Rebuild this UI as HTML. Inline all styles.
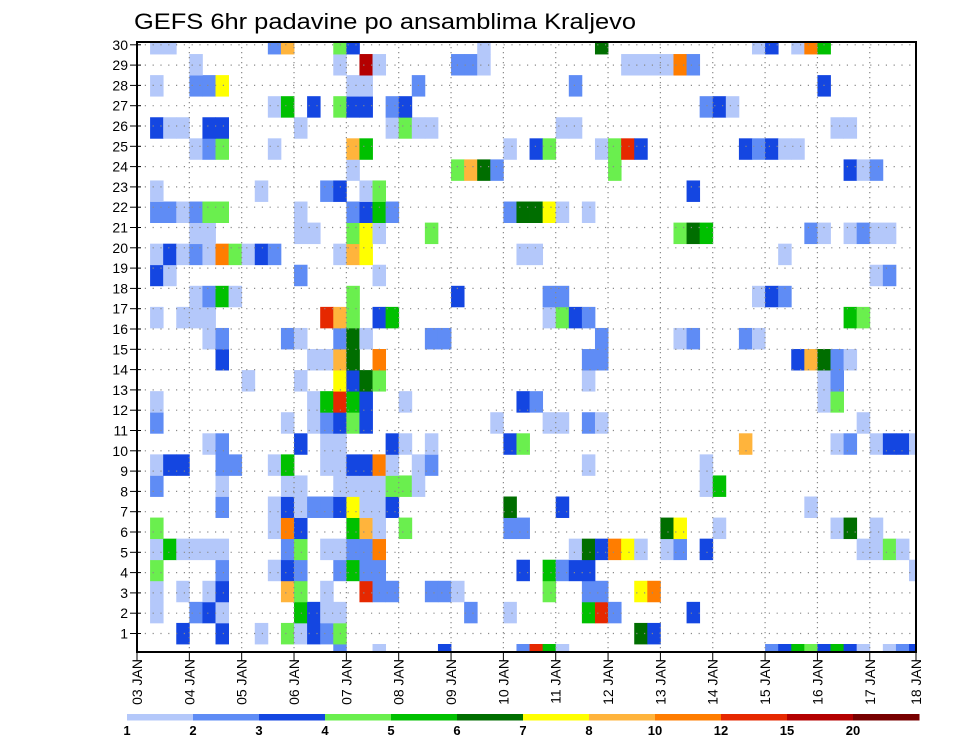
<!DOCTYPE html>
<html><head><meta charset="utf-8"><title>GEFS 6hr padavine po ansamblima Kraljevo</title>
<style>
html,body{margin:0;padding:0;background:#fff;}
svg{display:block;font-family:"Liberation Sans",sans-serif;}
</style></head>
<body>
<svg id="chart" width="960" height="742" viewBox="0 0 960 742" xmlns="http://www.w3.org/2000/svg">
<text x="134" y="29" font-size="22" textLength="502" lengthAdjust="spacingAndGlyphs" fill="#000">GEFS 6hr padavine po ansamblima Kraljevo</text>
<g id="cells"></g>
<g id="grid"></g>
<g id="axes"></g>
<g id="legend"></g>
</svg>
<script>
// ---- data ----
const dayLabels = ["03 JAN","04 JAN","05 JAN","06 JAN","07 JAN","08 JAN","09 JAN","10 JAN","11 JAN","12 JAN","13 JAN","14 JAN","15 JAN","16 JAN","17 JAN","18 JAN"];
const memberLabels = [1,2,3,4,5,6,7,8,9,10,11,12,13,14,15,16,17,18,19,20,21,22,23,24,25,26,27,28,29,30];
const legendBreaks = [1,2,3,4,5,6,7,8,10,12,15,20];
const legendColors = ["#b4c8fa","#5f8cf5","#1446e1","#6aef4e","#00c000","#006e00","#ffff00","#ffb43c","#ff7d00","#e62800","#b40000","#780000"];
// precipitation per ensemble member row: flat pairs [step, mm, step, mm, ...]
const precipByMember = {
29:[1,1.5,2,1.5,10,2.5,11,9,15,4.5,16,3.5,26,1.5,35,6.5,47,1.5,48,3.5,50,1.5,51,11,52,5.5],
28:[4,1.5,15,1.5,17,17,18,1.5,24,2.5,25,2.5,26,1.5,37,1.5,38,1.5,39,1.5,40,1.5,41,11,42,2.5],
27:[1,1.5,4,2.5,5,2.5,6,7.5,16,1.5,17,1.5,21,2.5,33,2.5,52,3.5],
26:[10,1.5,11,5.5,13,3.5,15,4.5,16,3.5,17,3.5,19,2.5,20,3.5,43,2.5,44,3.5,45,1.5],
25:[1,3.5,2,1.5,3,1.5,5,3.5,6,3.5,12,1.5,19,1.5,20,4.5,21,1.5,22,1.5,32,1.5,33,1.5,53,1.5,54,1.5],
24:[4,1.5,5,2.5,6,4.5,10,1.5,16,9,17,5.5,28,1.5,30,3.5,31,4.5,35,1.5,36,4.5,37,13,38,3.5,46,3.5,47,2.5,48,3.5,49,1.5,50,1.5],
23:[16,1.5,24,4.5,25,9,26,6.5,27,2.5,36,4.5,54,3.5,55,1.5,56,2.5],
22:[1,1.5,9,1.5,14,2.5,15,3.5,17,1.5,18,4.5,42,3.5],
21:[1,2.5,2,2.5,3,1.5,4,2.5,5,4.5,6,4.5,12,1.5,16,2.5,17,3.5,18,5.5,19,2.5,28,2.5,29,6.5,30,6.5,31,7.5,32,1.5,34,1.5],
20:[4,1.5,5,1.5,12,1.5,13,1.5,16,4.5,17,7.5,18,1.5,22,4.5,41,4.5,42,6.5,43,5.5,51,2.5,52,1.5,54,1.5,55,2.5,56,1.5,57,1.5],
19:[1,1.5,2,3.5,3,1.5,4,2.5,5,1.5,6,11,7,4.5,8,1.5,9,3.5,10,2.5,15,1.5,16,9,17,7.5,29,1.5,30,1.5,49,1.5],
18:[1,3.5,2,1.5,12,2.5,18,1.5,56,1.5,57,2.5],
17:[4,1.5,5,2.5,6,5.5,7,1.5,16,4.5,24,3.5,31,2.5,32,2.5,47,1.5,48,3.5,49,2.5],
16:[1,1.5,3,1.5,4,1.5,5,1.5,14,13,15,9,16,4.5,18,3.5,19,5.5,31,1.5,32,4.5,33,3.5,34,2.5,54,5.5,55,4.5],
15:[5,1.5,6,2.5,11,2.5,12,1.5,15,2.5,16,6.5,17,1.5,22,2.5,23,2.5,35,2.5,41,1.5,42,2.5,46,2.5,47,1.5],
14:[6,3.5,13,1.5,14,1.5,15,9,16,6.5,18,11,34,2.5,35,2.5,50,3.5,51,9,52,6.5,53,2.5,54,1.5],
13:[8,1.5,12,1.5,15,7.5,16,3.5,17,6.5,18,4.5,34,1.5,52,1.5,53,2.5],
12:[1,1.5,13,1.5,14,5.5,15,13,16,5.5,17,3.5,20,1.5,29,3.5,30,2.5,52,1.5,53,4.5],
11:[1,2.5,11,1.5,13,1.5,14,2.5,15,3.5,16,4.5,17,3.5,27,1.5,31,1.5,32,1.5,34,2.5,35,1.5,55,1.5],
10:[5,1.5,6,2.5,12,3.5,14,1.5,15,1.5,19,3.5,20,1.5,22,1.5,28,3.5,29,4.5,46,9,53,1.5,54,2.5,56,1.5,57,3.5,58,3.5,59,1.5],
9:[1,1.5,2,3.5,3,3.5,6,2.5,7,2.5,10,1.5,11,5.5,14,1.5,15,1.5,16,3.5,17,3.5,18,11,19,1.5,21,1.5,22,2.5,34,1.5,43,1.5],
8:[1,2.5,6,1.5,11,1.5,12,1.5,15,1.5,16,1.5,17,1.5,18,1.5,19,4.5,20,4.5,21,1.5,43,1.5,44,5.5],
7:[6,2.5,10,1.5,11,3.5,12,1.5,13,2.5,14,2.5,15,3.5,16,7.5,17,1.5,18,1.5,19,3.5,28,6.5,32,3.5,51,1.5],
6:[1,4.5,10,1.5,11,11,12,3.5,16,5.5,17,9,18,1.5,20,4.5,28,2.5,29,2.5,40,6.5,41,7.5,44,1.5,53,1.5,54,6.5,56,1.5],
5:[1,1.5,2,5.5,3,1.5,4,1.5,5,1.5,6,1.5,11,2.5,12,4.5,14,1.5,15,1.5,16,2.5,17,2.5,18,11,33,1.5,34,6.5,35,3.5,36,11,37,7.5,38,1.5,40,1.5,41,2.5,43,3.5,55,1.5,56,1.5,57,4.5,58,1.5],
4:[1,4.5,6,2.5,10,1.5,11,3.5,12,2.5,15,2.5,16,5.5,17,2.5,18,2.5,29,3.5,31,5.5,32,2.5,33,3.5,34,3.5,59,1.5],
3:[1,1.5,3,1.5,5,1.5,6,3.5,11,9,12,4.5,14,1.5,17,13,18,2.5,19,2.5,22,2.5,23,2.5,24,1.5,31,4.5,34,2.5,35,2.5,38,7.5,39,11],
2:[1,1.5,4,2.5,5,3.5,6,1.5,12,5.5,13,3.5,14,1.5,15,1.5,25,2.5,28,1.5,34,5.5,35,13,36,2.5,42,3.5],
1:[3,3.5,6,3.5,9,1.5,11,4.5,12,1.5,13,3.5,14,2.5,15,4.5,38,6.5,39,3.5],
0:[15,2.5,18,1.5,23,3.5,29,2.5,30,13,31,5.5,32,1.5,48,2.5,49,3.5,50,5.5,51,4.5,52,3.5,53,5.5,54,3.5,55,1.5,57,1.5,58,2.5,59,3.5]
};

// ---- geometry / scales ----
const NS = "http://www.w3.org/2000/svg";
const PL = 137, PR = 916, PT = 42, PB = 652;
const stepW = 13.085, dayW = stepW * 4;
const rowH = 21.07, rowBase = 644;
function xStep(s){ return PL + s * stepW; }
function yMemberTop(m){ return rowBase - m * rowH; }
function yLabel(r){ return 633.5 - (r - 1) * 20.3; }
function colorFor(v){
  let c = null;
  for (let i = 0; i < legendBreaks.length; i++) if (v >= legendBreaks[i]) c = legendColors[i];
  return c;
}
function mk(tag, attrs, parent){
  const e = document.createElementNS(NS, tag);
  for (const k in attrs) e.setAttribute(k, attrs[k]);
  parent.appendChild(e); return e;
}
const svg = document.getElementById("chart");
const defs = mk("defs", {}, svg);
const cp = mk("clipPath", {id:"plotclip"}, defs);
mk("rect", {x:PL, y:PT, width:PR-PL, height:PB-PT}, cp);

// ---- cells ----
const gCells = document.getElementById("cells");
gCells.setAttribute("clip-path", "url(#plotclip)");
for (const key in precipByMember){
  const m = +key, arr = precipByMember[key];
  for (let i = 0; i < arr.length; i += 2){
    const s = arr[i], v = arr[i+1];
    const col = colorFor(v);
    if (!col) continue;
    const r = mk("rect", {x:xStep(s), y:yMemberTop(m), width:stepW+0.4, height:rowH+0.4, fill:col}, gCells);
    
    
  }
}

// ---- grid ----
const gGrid = document.getElementById("grid");
for (let r = 1; r <= memberLabels.length; r++){
  const y = yLabel(memberLabels[r-1]);
  const l = mk("line", {x1:PL, x2:PR, y1:y, y2:y, stroke:"#8a8a8a", "stroke-width":1.2, "stroke-dasharray":"1.2 6.6"}, gGrid);
  
  
}
for (let d = 1; d < dayLabels.length - 1; d++){
  const x = PL + d * dayW;
  const l = mk("line", {x1:x, x2:x, y1:PT, y2:PB, stroke:"#8a8a8a", "stroke-width":1.2, "stroke-dasharray":"1.2 3.8"}, gGrid);
  
  
}

// ---- axes ----
const gAx = document.getElementById("axes");
const frame = mk("rect", {x:PL, y:PT, width:PR-PL, height:PB-PT, fill:"none", stroke:"#000", "stroke-width":2}, gAx);


for (let r = 0; r < memberLabels.length; r++){
  const y = yLabel(memberLabels[r]);
  const tk = mk("line", {x1:PL-7, x2:PL+4, y1:y, y2:y, stroke:"#000", "stroke-width":1}, gAx);
  
  
  const t = mk("text", {x:PL-9, y:y+5, "font-size":14, "text-anchor":"end", fill:"#000"}, gAx);
  t.textContent = String(memberLabels[r]);
  
  
}
for (let d = 0; d < dayLabels.length; d++){
  const x = Math.min(PL + d * dayW, PR);
  const tk = mk("line", {x1:x, x2:x, y1:PB, y2:PB+9, stroke:"#000", "stroke-width":1}, gAx);
  
  
  const t = mk("text", {x:0, y:0, "font-size":14, "text-anchor":"end", fill:"#000",
    transform:"translate(" + (x+5) + "," + (PB+7) + ") rotate(-90)"}, gAx);
  t.textContent = dayLabels[d];
  
  
}

// ---- legend ----
const gLeg = document.getElementById("legend");
const segW = 66, legX = 127, legY = 714;
for (let i = 0; i < legendColors.length; i++){
  const r = mk("rect", {x:legX + i*segW, y:legY, width:segW+0.5, height:6.5, fill:legendColors[i]}, gLeg);
  
  
  const t = mk("text", {x:legX + i*segW, y:735, "font-size":13, "font-weight":"bold", "text-anchor":"middle", fill:"#000"}, gLeg);
  t.textContent = String(legendBreaks[i]);
  
  
}
</script>
</body></html>
